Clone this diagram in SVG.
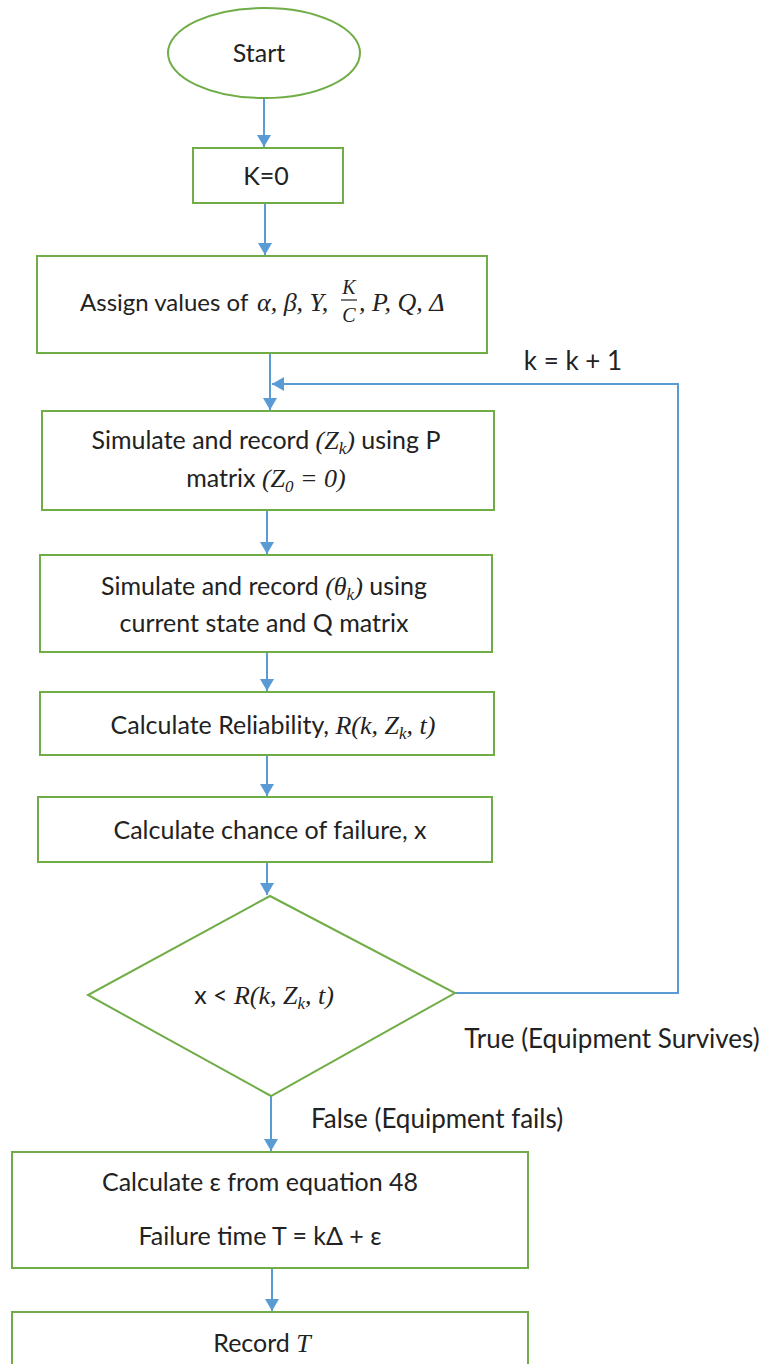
<svg xmlns="http://www.w3.org/2000/svg" width="764" height="1364" viewBox="0 0 764 1364">
<style>
.n{fill:#fff;stroke:#70ad47;stroke-width:2}
.c{fill:none;stroke:#5b9bd5;stroke-width:2}
text{font-family:Lato,"Noto Sans",sans-serif;font-size:25px;fill:#222;text-anchor:middle}
.m{font-family:"Liberation Serif","DejaVu Serif",serif;font-style:italic;font-size:26px}
.s{font-size:17px}
.l{text-anchor:start}
.lb{font-size:26px}
.a24{font-size:24px}
.f{font-family:"Liberation Serif","DejaVu Serif",serif;font-style:italic;font-size:20px}
</style>
<defs>
<marker id="a" viewBox="0 0 12 14" refX="12" refY="7" markerWidth="12" markerHeight="14" markerUnits="userSpaceOnUse" orient="auto">
<path d="M0,0 L12,7 L0,14 Z" fill="#5b9bd5"/>
</marker>
</defs>
<rect width="764" height="1364" fill="#fff"/>
<g id="connectors">
<line class="c" x1="264" y1="98" x2="264" y2="147" marker-end="url(#a)"/>
<line class="c" x1="265" y1="203" x2="265" y2="255" marker-end="url(#a)"/>
<line class="c" x1="270" y1="353" x2="270" y2="410" marker-end="url(#a)"/>
<polyline class="c" points="455,993 678,993 678,384 272,384" marker-end="url(#a)"/>
<line class="c" x1="267" y1="510" x2="267" y2="554" marker-end="url(#a)"/>
<line class="c" x1="267" y1="652" x2="267" y2="691" marker-end="url(#a)"/>
<line class="c" x1="267" y1="755" x2="267" y2="796" marker-end="url(#a)"/>
<line class="c" x1="267" y1="862" x2="267" y2="895" marker-end="url(#a)"/>
<line class="c" x1="271" y1="1096" x2="271" y2="1151" marker-end="url(#a)"/>
<line class="c" x1="272" y1="1268" x2="272" y2="1311" marker-end="url(#a)"/>
<text x="573" y="370" class="lb">k = k + 1</text>
<text x="612" y="1048" class="lb">True (Equipment Survives)</text>
<text x="437" y="1128" class="lb">False (Equipment fails)</text>
</g>
<g id="start">
<ellipse class="n" cx="264" cy="53" rx="96" ry="45"/>
<text x="259" y="62">Start</text>
</g>
<g id="k0">
<rect class="n" x="193" y="148" width="150" height="55"/>
<text x="266" y="185">K=0</text>
</g>
<g id="assign">
<rect class="n" x="37" y="256" width="450" height="97"/>
<text x="80" y="311" class="l a24">Assign values of</text>
<text x="257" y="311" class="m l">α, β, Υ,</text>
<text x="349" y="294" class="f">K</text>
<line x1="341" y1="300" x2="357" y2="300" stroke="#222" stroke-width="1.2"/>
<text x="349" y="322" class="f">C</text>
<text x="359" y="311" class="m l">, P, Q, Δ</text>
</g>
<g id="simZ">
<rect class="n" x="42" y="411" width="452" height="99"/>
<text x="266" y="449">Simulate and record <tspan class="m">(Z<tspan class="s" dy="5">k</tspan><tspan dy="-5">)</tspan></tspan> using P</text>
<text x="266" y="487">matrix <tspan class="m">(Z<tspan class="s" dy="5">0</tspan><tspan dy="-5"> = 0)</tspan></tspan></text>
</g>
<g id="simTheta">
<rect class="n" x="40" y="555" width="452" height="97"/>
<text x="264" y="595">Simulate and record <tspan class="m">(θ<tspan class="s" dy="5">k</tspan><tspan dy="-5">)</tspan></tspan> using</text>
<text x="264" y="632">current state and Q matrix</text>
</g>
<g id="reliab">
<rect class="n" x="40" y="692" width="454" height="63"/>
<text x="273" y="734">Calculate Reliability, <tspan class="m">R(k, Z<tspan class="s" dy="5">k</tspan><tspan dy="-5">, t)</tspan></tspan></text>
</g>
<g id="chance">
<rect class="n" x="38" y="797" width="454" height="65"/>
<text x="270" y="839">Calculate chance of failure, x</text>
</g>
<g id="decision">
<polygon class="n" points="270,896 455,993 271,1096 88,995"/>
<text x="264" y="1004">x &lt; <tspan class="m">R(k, Z<tspan class="s" dy="5">k</tspan><tspan dy="-5">, t)</tspan></tspan></text>
</g>
<g id="failtime">
<rect class="n" x="12" y="1152" width="516" height="116"/>
<text x="260" y="1191">Calculate ε from equation 48</text>
<text x="260" y="1245">Failure time T = kΔ + ε</text>
</g>
<g id="record">
<rect class="n" x="12" y="1312" width="516" height="60"/>
<text x="262" y="1352">Record <tspan class="m">T</tspan></text>
</g>
</svg>
